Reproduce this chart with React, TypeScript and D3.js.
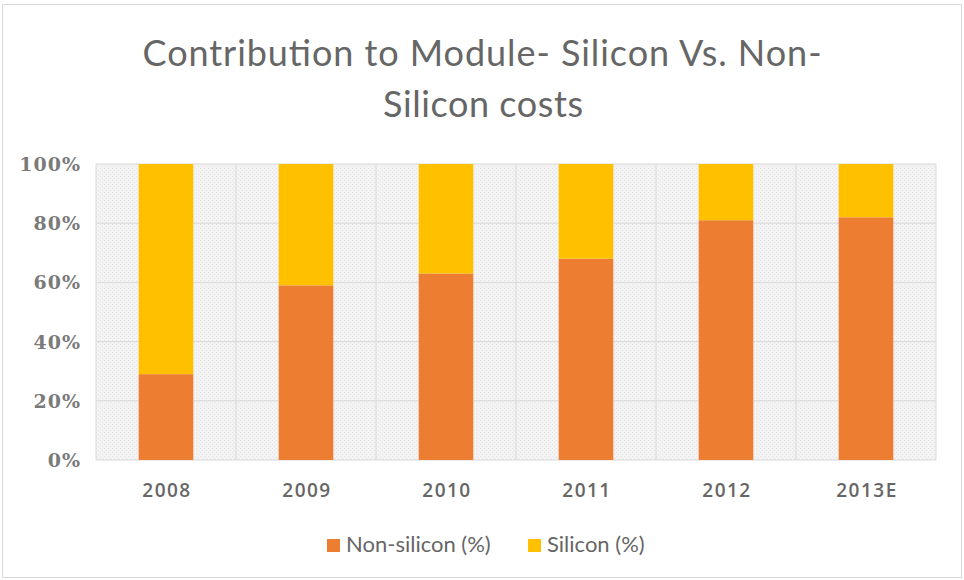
import React from "react";
import * as d3 from "d3";

const categories = ["2008", "2009", "2010", "2011", "2012", "2013E"];
const nonSilicon = [29, 59, 63, 68, 81, 82];
const silicon = [71, 41, 37, 32, 19, 18];
const yTicks = [0, 20, 40, 60, 80, 100];
const seriesNames = ["Non-silicon (%)", "Silicon (%)"];
const colors = ["#ED7D31", "#FFC000"];

const W = 964;
const H = 580;
const m = { left: 96, right: 28, top: 164, bottom: 120 };

export default function App() {
  const x = d3
    .scaleBand<string>()
    .domain(categories)
    .range([m.left, W - m.right])
    .paddingInner(0.61)
    .paddingOuter(0.305);
  const xb = d3.scaleBand<string>().domain(categories).range([m.left, W - m.right]);
  const y = d3.scaleLinear().domain([0, 100]).range([H - m.bottom, m.top]);
  const stacked = d3
    .stack<number>()
    .keys(["0", "1"])
    .value((i, k) => (k === "0" ? nonSilicon[i] : silicon[i]))(
    categories.map((_, i) => i)
  );
  const serif = "'DejaVu Serif', 'Liberation Serif', serif";
  const sans = "Lato, 'Open Sans', sans-serif";
  return (
    <svg width={W} height={H} style={{ position: "absolute", left: 0, top: 0 }}>
      <defs>
        <pattern id="hatch" width="4" height="4" patternUnits="userSpaceOnUse">
          <rect width="4" height="4" fill="#f3f3f3" />
          <rect width="1" height="1" fill="#e4e4e4" />
          <rect x="2" y="2" width="1" height="1" fill="#e4e4e4" />
        </pattern>
      </defs>
      <rect x={0} y={0} width={W} height={H} fill="#fff" />
      <rect x={2.5} y={4.5} width={W - 5} height={H - 7} fill="#fff" stroke="#d9d9d9" />
      <text
        x={482}
        y={66}
        textAnchor="middle"
        fontFamily={sans}
        fontSize={36}
        fill="#666"
        textLength={679}
        lengthAdjust="spacing"
      >
        Contribution to Module- Silicon Vs. Non-
      </text>
      <text
        x={483}
        y={117}
        textAnchor="middle"
        fontFamily={sans}
        fontSize={36}
        fill="#666"
        textLength={200}
        lengthAdjust="spacing"
      >
        Silicon costs
      </text>
      <rect
        x={m.left}
        y={m.top}
        width={W - m.left - m.right}
        height={H - m.top - m.bottom}
        fill="url(#hatch)"
      />
      {yTicks.map((t) => (
        <g key={t}>
          <line x1={m.left} x2={W - m.right} y1={y(t)} y2={y(t)} stroke="#d9d9d9" />
          <text
            x={81}
            y={y(t) + 7}
            textAnchor="end"
            fontFamily={serif}
            fontSize={19}
            fontWeight={600}
            letterSpacing={1}
            fill="#7a7a7a"
          >
            {t}%
          </text>
        </g>
      ))}
      {categories.map((c) => (
        <line
          key={"v" + c}
          x1={xb(c)!}
          x2={xb(c)!}
          y1={m.top}
          y2={H - m.bottom}
          stroke="#d9d9d9"
        />
      ))}
      <line x1={W - m.right} x2={W - m.right} y1={m.top} y2={H - m.bottom} stroke="#d9d9d9" />
      {stacked.map((s, si) =>
        s.map((d, i) => (
          <rect
            key={si + "-" + i}
            x={x(categories[i])!}
            width={x.bandwidth()}
            y={y(d[1])}
            height={y(d[0]) - y(d[1])}
            fill={colors[si]}
          />
        ))
      )}
      {categories.map((c) => (
        <text
          key={"l" + c}
          x={xb(c)! + xb.bandwidth() / 2 + 1}
          y={497}
          textAnchor="middle"
          fontFamily="'Open Sans', sans-serif"
          fontSize={19}
          fontWeight={600}
          letterSpacing={1.5}
          fill="#666"
        >
          {c}
        </text>
      ))}
      {seriesNames.map((n, i) => {
        const lx = i === 0 ? 327 : 528;
        return (
          <g key={n}>
            <rect x={lx} y={539} width={13} height={13} fill={colors[i]} />
            <text x={lx + 19} y={552} fontFamily={sans} fontSize={22} fill="#666">
              {n}
            </text>
          </g>
        );
      })}
    </svg>
  );
}
